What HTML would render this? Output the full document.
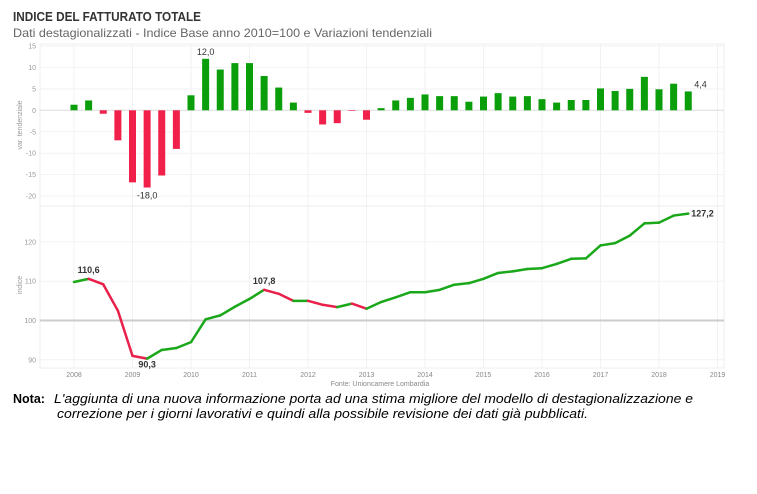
<!DOCTYPE html>
<html><head><meta charset="utf-8">
<style>
body{margin:0;background:#fff;width:757px;height:494px;overflow:hidden;font-family:"Liberation Sans",sans-serif;}
svg{position:absolute;left:0;top:0}
</style></head>
<body>
<svg id="c" width="757" height="494">
<text x="13" y="21" font-size="12.5" font-weight="bold" fill="#333" textLength="188" lengthAdjust="spacingAndGlyphs">INDICE DEL FATTURATO TOTALE</text>
<text x="13" y="37" font-size="12" fill="#666" textLength="419" lengthAdjust="spacingAndGlyphs">Dati destagionalizzati - Indice Base anno 2010=100 e Variazioni tendenziali</text>
<text x="380" y="386" font-size="7" fill="#888" text-anchor="middle">Fonte: Unioncamere Lombardia</text>
<text x="13" y="403" font-size="12.5" font-weight="bold" fill="#000">Nota:</text>
<text x="54" y="403" font-size="12.5" font-style="italic" fill="#000" textLength="639" lengthAdjust="spacingAndGlyphs">L'aggiunta di una nuova informazione porta ad una stima migliore del modello di destagionalizzazione e</text>
<text x="57" y="418" font-size="12.5" font-style="italic" fill="#000" textLength="531" lengthAdjust="spacingAndGlyphs">correzione per i giorni lavorativi e quindi alla possibile revisione dei dati già pubblicati.</text>
<g id="g"></g>
</svg>
<script>
const quarters=[];for(let y=2008;y<=2018;y++)for(let q=0;q<4;q++)quarters.push(y+q/4);
const varValues=[1.3,2.3,-0.8,-7.0,-16.8,-18.0,-15.2,-9.0,3.5,12.0,9.5,11.0,11.0,8.0,5.3,1.8,-0.6,-3.3,-3.0,-0.1,-2.2,0.5,2.3,2.9,3.7,3.3,3.3,2.0,3.2,4.0,3.2,3.3,2.6,1.8,2.4,2.4,5.1,4.5,5.0,7.8,4.9,6.2,4.4];
const indexValues=[109.8,110.6,109.2,102.5,91.0,90.3,92.5,93.0,94.5,100.3,101.3,103.5,105.5,107.8,106.8,105.0,105.0,104.0,103.4,104.3,103.0,104.7,105.9,107.2,107.2,107.8,109.1,109.5,110.6,112.1,112.5,113.1,113.3,114.4,115.7,115.8,119.1,119.7,121.6,124.7,124.9,126.7,127.2];
const yearTicks=[2008,2009,2010,2011,2012,2013,2014,2015,2016,2017,2018,2019];
const varTicks=[15,10,5,0,-5,-10,-15,-20];
const idxTicks=[120,110,100,90];
const barLabels={5:"-18,0",9:"12,0",42:"4,4"};
const lineLabels={1:"110,6",5:"90,3",13:"107,8",42:"127,2"};

const NS="http://www.w3.org/2000/svg",G=document.getElementById('g');
function el(t,a,txt){const e=document.createElementNS(NS,t);for(const k in a)e.setAttribute(k,a[k]);if(txt!=null)e.textContent=txt;G.appendChild(e);return e;}
const X=v=>74+(v-2008)*58.5;
const Yv=v=>110.3-v*4.29;
const Yi=v=>320.5-(v-100)*3.93;
const L=40,R=724;
let f=el('rect',{x:L,y:44,width:R-L,height:162,fill:'none',stroke:'#eee'});

f=el('rect',{x:L,y:206,width:R-L,height:162,fill:'none',stroke:'#eee'});

yearTicks.forEach(y=>{
 let g=el('line',{x1:X(y),x2:X(y),y1:44,y2:368,stroke:'#f2f2f2'});
 
 let t=el('text',{x:X(y),y:377,'font-size':7,fill:'#888','text-anchor':'middle'},y);
 
});
varTicks.forEach(v=>{
 let g=el('line',{x1:L,x2:R,y1:Yv(v),y2:Yv(v),stroke:v===0?'#ddd':'#f2f2f2'});
 
 let t=el('text',{x:36,y:Yv(v)+2.5,'font-size':7,fill:'#999','text-anchor':'end'},v);
 
});
idxTicks.forEach(v=>{
 let g=el('line',{x1:L,x2:R,y1:Yi(v),y2:Yi(v),stroke:v===100?'#ccc':'#f2f2f2','stroke-width':v===100?2:1});
 
 let t=el('text',{x:36,y:Yi(v)+2.5,'font-size':7,fill:'#999','text-anchor':'end'},v);
 
});
let a=el('text',{x:0,y:0,'font-size':7,fill:'#999','text-anchor':'middle',transform:'translate(22,125) rotate(-90)'},'var. tendenziale');

a=el('text',{x:0,y:0,'font-size':7,fill:'#999','text-anchor':'middle',transform:'translate(22,285) rotate(-90)'},'indice');

varValues.forEach((v,i)=>{
 const x=X(quarters[i]),y0=Yv(0),y1=Yv(v);
 const b=el('rect',{x:x-3.5,y:Math.min(y0,y1),width:7,height:Math.max(0.6,Math.abs(y1-y0)),fill:v>=0?'#0a9e0a':'#f0204a'});
 
 if(barLabels[i]){const t=el('text',{x:i===42?x+6:x,y:v>=0?y1-4:y1+11,'font-size':9,fill:'#333','text-anchor':i===42?'start':'middle'},barLabels[i]);
 }
});
for(let i=1;i<indexValues.length;i++){
 const s=el('line',{x1:X(quarters[i-1]),y1:Yi(indexValues[i-1]),x2:X(quarters[i]),y2:Yi(indexValues[i]),stroke:indexValues[i]>=indexValues[i-1]?'#1aa81a':'#e8204a','stroke-width':2.5,'stroke-linecap':'round'});
 
}
for(const k in lineLabels){const i=+k,x=X(quarters[i]),y=Yi(indexValues[i]);
 const t=el('text',{x:i===42?x+3:x,y:i===5?y+9:(i===42?y+3:y-6),'font-size':9,'font-weight':'bold',fill:'#333','text-anchor':i===42?'start':'middle'},lineLabels[k]);
 }
</script>
</body></html>
